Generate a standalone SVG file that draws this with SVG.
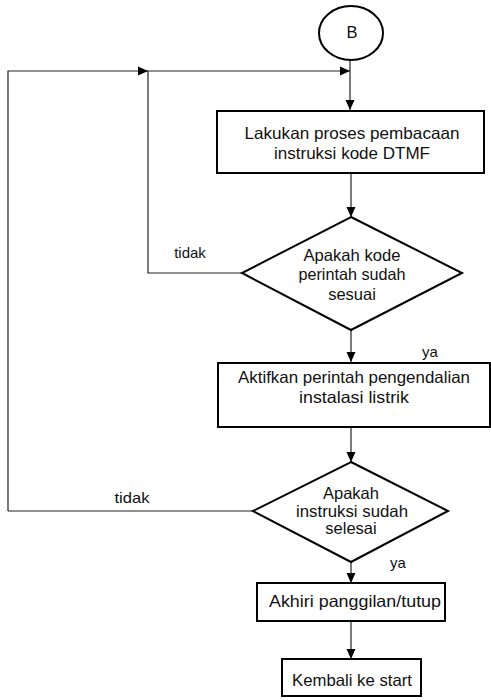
<svg xmlns="http://www.w3.org/2000/svg" width="491" height="700" viewBox="0 0 491 700">
<defs>
<marker id="arr" markerWidth="10" markerHeight="10" refX="10" refY="5" orient="auto" markerUnits="userSpaceOnUse">
<path d="M0,0.5 L10,5 L0,9.5 Z" fill="#000"/>
</marker>
<style>
.shape{fill:#fff;stroke:#000;stroke-width:2}
.ln{fill:none;stroke:#222;stroke-width:1.2}
text{font-family:"Liberation Sans",Arial,sans-serif;font-size:16.5px;fill:#111;text-anchor:middle}
.lbl{font-size:15px}
</style>
</defs>
<rect width="491" height="700" fill="#fff"/>
<g id="connectors">
<line class="ln" x1="350" y1="60" x2="350" y2="110" marker-end="url(#arr)"/>
<polyline class="ln" points="8,511 8,71 148,71" marker-end="url(#arr)"/>
<polyline class="ln" points="242,273 148,273 148,71 350,71" marker-end="url(#arr)"/>
<line class="ln" x1="351" y1="173" x2="351" y2="217" marker-end="url(#arr)"/>
<line class="ln" x1="351" y1="330" x2="351" y2="362" marker-end="url(#arr)"/>
<line class="ln" x1="351" y1="427" x2="351" y2="462" marker-end="url(#arr)"/>
<line class="ln" x1="253" y1="511" x2="8" y2="511"/>
<line class="ln" x1="351" y1="562" x2="351" y2="583" marker-end="url(#arr)"/>
<line class="ln" x1="351" y1="621" x2="351" y2="659" marker-end="url(#arr)"/>
<text class="lbl" x="190" y="258">tidak</text>
<text class="lbl" x="132" y="503" textLength="35" lengthAdjust="spacingAndGlyphs">tidak</text>
<text class="lbl" x="430" y="357">ya</text>
<text class="lbl" x="398" y="568">ya</text>
</g>
<g id="start-b">
<ellipse class="shape" cx="351" cy="33" rx="32" ry="27"/>
<text x="352" y="38">B</text>
</g>
<g id="proses-baca">
<rect class="shape" x="217" y="111" width="267" height="62"/>
<text x="352" y="139" textLength="215" lengthAdjust="spacingAndGlyphs">Lakukan proses pembacaan</text>
<text x="352" y="159" textLength="156" lengthAdjust="spacingAndGlyphs">instruksi kode DTMF</text>
</g>
<g id="cek-kode">
<polygon class="shape" points="351,217 462,273 351,330 242,273"/>
<text x="352" y="261" textLength="97" lengthAdjust="spacingAndGlyphs">Apakah kode</text>
<text x="352" y="280" textLength="107" lengthAdjust="spacingAndGlyphs">perintah sudah</text>
<text x="352" y="300">sesuai</text>
</g>
<g id="aktifkan">
<rect class="shape" x="218" y="363" width="272" height="64"/>
<text x="354" y="383" textLength="232" lengthAdjust="spacingAndGlyphs">Aktifkan perintah pengendalian</text>
<text x="354" y="403" textLength="110" lengthAdjust="spacingAndGlyphs">instalasi listrik</text>
</g>
<g id="cek-selesai">
<polygon class="shape" points="351,462 448,511 351,562 253,511"/>
<text x="351" y="499">Apakah</text>
<text x="352" y="517" textLength="112" lengthAdjust="spacingAndGlyphs">instruksi sudah</text>
<text x="351" y="534">selesai</text>
</g>
<g id="akhiri">
<rect class="shape" x="257" y="583" width="188" height="38"/>
<text x="355" y="607" textLength="172" lengthAdjust="spacingAndGlyphs">Akhiri panggilan/tutup</text>
</g>
<g id="kembali">
<rect class="shape" x="282" y="659" width="139" height="37"/>
<text x="352" y="686" textLength="120" lengthAdjust="spacingAndGlyphs">Kembali ke start</text>
</g>
</svg>
